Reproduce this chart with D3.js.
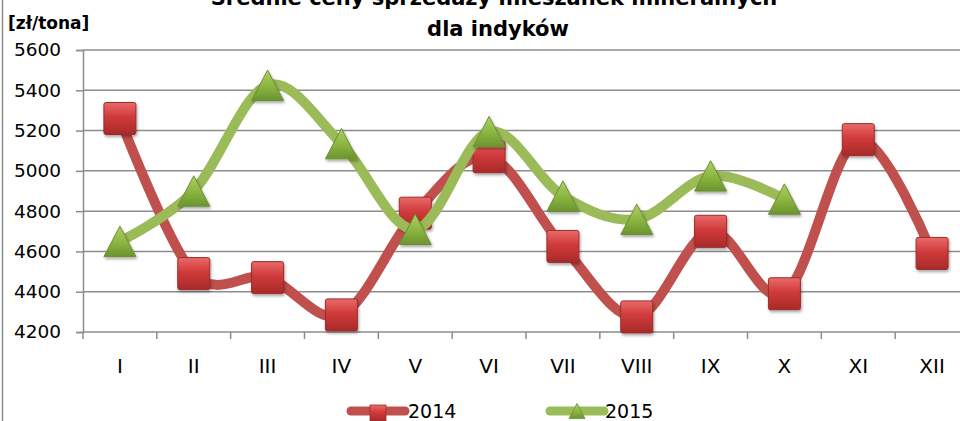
<!DOCTYPE html>
<html>
<head>
<meta charset="utf-8">
<script src="https://cdn.jsdelivr.net/npm/d3@7"></script>
<style>
  html, body { margin: 0; padding: 0; background: #fff; }
  svg { display: block; }
  text { font-family: "DejaVu Sans", sans-serif; fill: #000; }
</style>
</head>
<body>
<div id="chart"></div>
<script>
(function () {
  "use strict";

  // month categories (roman numerals as on the original chart)
  var months = ["I", "II", "III", "IV", "V", "VI", "VII", "VIII", "IX", "X", "XI", "XII"];
  // average prices [zł/tona]
  var values2014 = [5260, 4490, 4470, 4285, 4790, 5070, 4625, 4275, 4700, 4390, 5155, 4590];
  var values2015 = [4650, 4900, 5425, 5135, 4710, 5195, 4875, 4760, 4975, 4860];
  var yTicks = [4200, 4400, 4600, 4800, 5000, 5200, 5400, 5600];
  var seriesNames = ["2014", "2015"];
  var titleLines = ["Średnie ceny sprzedaży mieszanek mineralnych", "dla indyków"];
  var unitLabel = "[zł/tona]";

  var width = 960, height = 421;
  var plot = { left: 83, right: 969, top: 50, bottom: 332 };

  var svg = d3.select("#chart")
      .append("svg")
      .attr("width", width)
      .attr("height", height);

  var defs = svg.append("defs");

  var redGrad = defs.append("linearGradient").attr("id", "redGrad")
      .attr("x1", 0).attr("y1", 0).attr("x2", 0).attr("y2", 1);
  redGrad.append("stop").attr("offset", "0%").attr("stop-color", "#ea6a6a");
  redGrad.append("stop").attr("offset", "45%").attr("stop-color", "#d03a3a");
  redGrad.append("stop").attr("offset", "100%").attr("stop-color", "#a82a2a");

  var greenGrad = defs.append("linearGradient").attr("id", "greenGrad")
      .attr("x1", 0).attr("y1", 0).attr("x2", 0).attr("y2", 1);
  greenGrad.append("stop").attr("offset", "0%").attr("stop-color", "#aed163");
  greenGrad.append("stop").attr("offset", "55%").attr("stop-color", "#8ab43f");
  greenGrad.append("stop").attr("offset", "100%").attr("stop-color", "#6a9430");

  var shadow = defs.append("filter").attr("id", "shadow")
      .attr("x", "-30%").attr("y", "-30%").attr("width", "160%").attr("height", "160%");
  shadow.append("feDropShadow")
      .attr("dx", 1).attr("dy", 2).attr("stdDeviation", 1.5)
      .attr("flood-color", "#000").attr("flood-opacity", 0.35);

  // scales
  var x = d3.scaleBand().domain(months).range([plot.left, plot.right]).padding(0);
  var y = d3.scaleLinear().domain([4200, 5600]).range([plot.bottom, plot.top]);
  var cx = function (m) { return x(m) + x.bandwidth() / 2; };

  // chart frame (left edge only visible)
  svg.append("line")
      .attr("x1", 2.5).attr("x2", 2.5).attr("y1", 0).attr("y2", height)
      .attr("stroke", "#8c8c8c").attr("stroke-width", 1.5);

  // gridlines
  svg.append("g").selectAll("line")
      .data(yTicks.slice(1))
      .enter().append("line")
      .attr("x1", plot.left).attr("x2", width)
      .attr("y1", function (d) { return y(d); })
      .attr("y2", function (d) { return y(d); })
      .attr("stroke", "#8c8c8c").attr("stroke-width", 1.5);

  // y axis
  var yAxis = svg.append("g")
      .attr("transform", "translate(" + plot.left + ",0)")
      .call(d3.axisLeft(y).tickValues(yTicks).tickSize(7).tickPadding(15).tickFormat(d3.format("d")));
  yAxis.select(".domain").attr("stroke", "#8c8c8c").attr("stroke-width", 1.5);
  yAxis.selectAll(".tick line").attr("stroke", "#8c8c8c").attr("stroke-width", 1.5);
  yAxis.selectAll(".tick text")
      .style("font-family", "DejaVu Sans")
      .style("font-size", "18.5px").attr("fill", "#000");

  // x axis (ticks between categories)
  var xAxis = svg.append("g")
      .attr("transform", "translate(0," + plot.bottom + ")");
  xAxis.append("line")
      .attr("x1", plot.left).attr("x2", width).attr("y1", 0).attr("y2", 0)
      .attr("stroke", "#8c8c8c").attr("stroke-width", 1.5);
  xAxis.selectAll("line.tk")
      .data(months)
      .enter().append("line").attr("class", "tk")
      .attr("x1", function (d) { return x(d); })
      .attr("x2", function (d) { return x(d); })
      .attr("y1", 0).attr("y2", 7)
      .attr("stroke", "#8c8c8c").attr("stroke-width", 1.5);
  xAxis.selectAll("text")
      .data(months)
      .enter().append("text")
      .attr("x", cx)
      .attr("y", 41)
      .attr("text-anchor", "middle")
      .style("font-size", "20px")
      .text(function (d) { return d; });

  // titles
  svg.append("text")
      .attr("x", 494).attr("y", 5)
      .attr("text-anchor", "middle")
      .style("font-size", "21px").style("font-weight", "bold")
      .text(titleLines[0]);
  svg.append("text")
      .attr("x", 498).attr("y", 36)
      .attr("text-anchor", "middle")
      .style("font-size", "21px").style("font-weight", "bold")
      .text(titleLines[1]);
  svg.append("text")
      .attr("x", 8).attr("y", 29)
      .style("font-size", "17px").style("font-weight", "bold")
      .text(unitLabel);

  var line = d3.line()
      .x(function (d) { return cx(d.m); })
      .y(function (d) { return y(d.v); })
      .curve(d3.curveCardinal.tension(0));

  var d2014 = values2014.map(function (v, i) { return { m: months[i], v: v }; });
  var d2015 = values2015.map(function (v, i) { return { m: months[i], v: v }; });

  var tri = function (s) {
    var h = s * 0.95;
    return "M0," + (-h / 2) + "L" + (s / 2) + "," + (h / 2) + "L" + (-s / 2) + "," + (h / 2) + "Z";
  };

  // 2014 series
  svg.append("path")
      .datum(d2014)
      .attr("d", line)
      .attr("fill", "none")
      .attr("stroke", "#c0504d").attr("stroke-width", 10)
      .attr("stroke-linejoin", "round").attr("stroke-linecap", "round");
  svg.append("g").selectAll("rect")
      .data(d2014)
      .enter().append("rect")
      .attr("x", function (d) { return cx(d.m) - 16; })
      .attr("y", function (d) { return y(d.v) - 16; })
      .attr("width", 32).attr("height", 32).attr("rx", 2)
      .attr("fill", "url(#redGrad)")
      .attr("stroke", "#9c2d2b").attr("stroke-width", 1)
      .attr("filter", "url(#shadow)");

  // 2015 series
  svg.append("path")
      .datum(d2015)
      .attr("d", line)
      .attr("fill", "none")
      .attr("stroke", "#9bbb59").attr("stroke-width", 10)
      .attr("stroke-linejoin", "round").attr("stroke-linecap", "round");
  svg.append("g").selectAll("path")
      .data(d2015)
      .enter().append("path")
      .attr("transform", function (d) { return "translate(" + cx(d.m) + "," + y(d.v) + ")"; })
      .attr("d", tri(32))
      .attr("fill", "url(#greenGrad)")
      .attr("stroke", "#6f8f35").attr("stroke-width", 1)
      .attr("filter", "url(#shadow)");

  // legend
  var legend = svg.append("g");
  var lg1 = legend.append("g").attr("transform", "translate(378,411)");
  lg1.append("line").attr("x1", -27).attr("x2", 27)
      .attr("stroke", "#c0504d").attr("stroke-width", 9).attr("stroke-linecap", "round");
  lg1.append("rect").attr("x", -8).attr("y", -6).attr("width", 16).attr("height", 16)
      .attr("fill", "url(#redGrad)").attr("stroke", "#9c2d2b").attr("stroke-width", 0.8);
  lg1.append("text").attr("x", 30).attr("y", 7).style("font-size", "19px").text(seriesNames[0]);

  var lg2 = legend.append("g").attr("transform", "translate(577,411)");
  lg2.append("line").attr("x1", -27).attr("x2", 27)
      .attr("stroke", "#9bbb59").attr("stroke-width", 9).attr("stroke-linecap", "round");
  lg2.append("path").attr("d", tri(16))
      .attr("fill", "url(#greenGrad)").attr("stroke", "#6f8f35").attr("stroke-width", 0.8);
  lg2.append("text").attr("x", 28).attr("y", 7).style("font-size", "19px").text(seriesNames[1]);
}());
</script>
</body>
</html>
